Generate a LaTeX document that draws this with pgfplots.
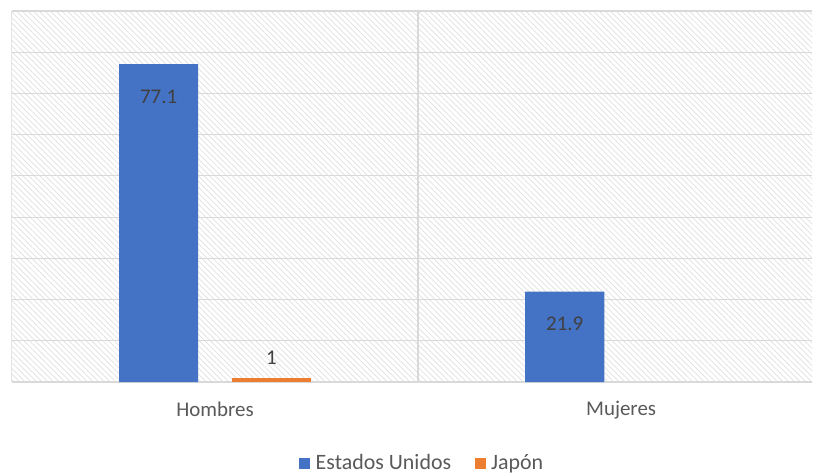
\documentclass[border=0pt]{standalone}
\usepackage{pgfplots}
\pgfplotsset{compat=1.18}
\usepackage{fontspec}
\setmainfont{Carlito}
\usetikzlibrary{patterns.meta}
\definecolor{cBlue}{HTML}{4472C4}
\definecolor{cOrange}{HTML}{ED7D31}
\definecolor{cText}{HTML}{404040}
\definecolor{cTick}{HTML}{595959}
\definecolor{cGrid}{HTML}{D9D9D9}
\begin{document}
\begin{tikzpicture}
\begin{axis}[
  at={(0,0)}, anchor=south west,
  scale only axis, width=800bp, height=371bp,
  xmin=-0.5, xmax=1.47, ymin=0, ymax=90,
  ybar, bar width=0.195,
  /pgf/number format/assume math mode=true,
  xtick={0,1}, xticklabels={Hombres,Mujeres},
  extra x ticks={0.5}, extra x tick labels={},
  extra x tick style={grid=major, major grid style={cGrid, line width=1.2bp}, major tick length=0pt},
  ytick={0,10,...,90}, yticklabels={},
  ymajorgrids, major grid style={cGrid, line width=1.2bp},
  major tick length=0pt,
  axis line style={cGrid, line width=1.2bp},
  axis x line*=bottom, axis y line*=left,
  y axis line style={cGrid!70, line width=1bp},
  axis background/.style={pattern={Lines[angle=-45, distance=4bp, line width=0.7bp]}, pattern color=cGrid!85},
  xticklabel style={font=\fontsize{21}{24}\selectfont, text=cTick, yshift=-16bp},
  legend style={at={(0.5,-81bp)}, xshift=10bp, anchor=center, draw=none, fill=none,
    legend columns=2, font=\fontsize{22}{24}\selectfont, text=cTick,
    /tikz/every even column/.append style={column sep=22bp}},
  legend image code/.code={\fill[#1] (0bp,-6bp) rectangle (11bp,5bp);},
  legend cell align=left,
  nodes near coords, every node near coord/.append style={font=\fontsize{21}{24}\selectfont, text=cText},
  clip=false,
]
\addplot[fill=cBlue, draw=none, bar shift=-0.139,
  every node near coord/.append style={anchor=north, yshift=-22bp}]
  coordinates {(0,77.1) (1,21.9)};
\addplot[fill=cOrange, draw=none, bar shift=0.139,
  every node near coord/.append style={anchor=south, yshift=10bp}]
  coordinates {(0,1)};
\legend{\hspace{4bp}Estados Unidos, \hspace{3bp}Japón}
\end{axis}
\path[use as bounding box] (-12bp,-92bp) rectangle (802bp,371bp+11bp);
\end{tikzpicture}
\end{document}
